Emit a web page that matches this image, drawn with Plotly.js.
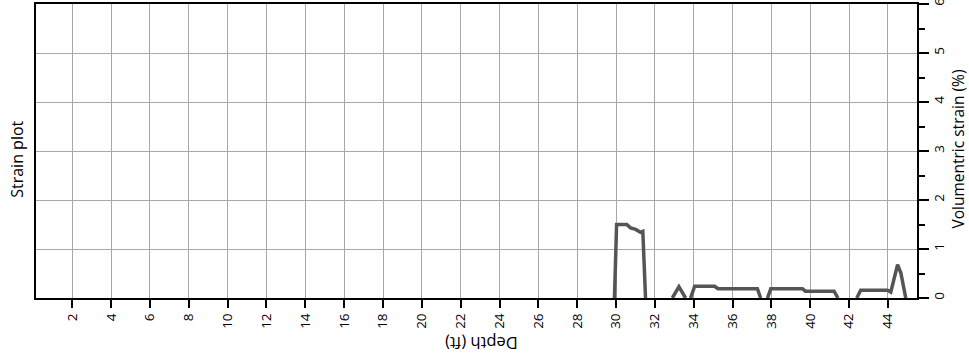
<!DOCTYPE html>
<html>
<head>
<meta charset="utf-8">
<script src="https://cdn.plot.ly/plotly-3.0.1.min.js"></script>
<style>html,body{margin:0;padding:0;background:#fff;}#chart{width:969px;height:363px;}</style>
</head>
<body>
<div id="chart"></div>
<script>
// Depth (ft) and volumetric strain (%); null = gap in the line
var depth = [29.92, 30.03, 30.55, 30.75, 31.01, 31.26, 31.38, 31.52, null,
             32.90, 33.24, 33.58, null,
             33.84, 34.05, 35.08, 35.25, 37.28, 37.45, null,
             37.80, 37.97, 39.60, 39.75, 41.23, 41.43, null,
             42.40, 42.60, 43.98, 44.15, 44.50, 44.67, 44.92];
var strain = [0, 1.50, 1.50, 1.43, 1.40, 1.34, 1.36, 0, null,
              0, 0.23, 0, null,
              0, 0.24, 0.24, 0.19, 0.19, 0, null,
              0, 0.19, 0.19, 0.14, 0.14, 0, null,
              0, 0.16, 0.16, 0.12, 0.68, 0.51, 0];
var depthTicks = [2,4,6,8,10,12,14,16,18,20,22,24,26,28,30,32,34,36,38,40,42,44];
var strainTicks = [0,1,2,3,4,5,6];

var font = '"Open Sans", "Noto Sans", sans-serif';
var trace = {
  x: depth, y: strain, type: 'scatter', mode: 'lines',
  line: {color: '#555555', width: 3.5}, connectgaps: false,
  hoverinfo: 'skip', showlegend: false
};
var layout = {
  width: 969, height: 363,
  margin: {l: 36, r: 52, t: 4, b: 65},
  paper_bgcolor: '#fff', plot_bgcolor: '#fff',
  font: {family: font, color: '#000', size: 13},
  xaxis: {
    range: [0.13, 45.5], tickmode: 'array', tickvals: depthTicks, ticktext: depthTicks.map(String),
    tickangle: -90, ticks: 'outside', ticklen: 8, tickwidth: 2, tickcolor: '#000',
    showline: true, linecolor: '#000', linewidth: 2, mirror: true,
    showgrid: true, gridcolor: '#a8a8a8', gridwidth: 1, zeroline: false,
    tickfont: {size: 13.5, family: font, color: '#000'}
  },
  yaxis: {
    side: 'right', range: [0, 6], tickmode: 'array', tickvals: strainTicks, ticktext: strainTicks.map(String),
    tickangle: -90, ticks: 'outside', ticklen: 10, tickwidth: 2, tickcolor: '#000',
    ticklabeloverflow: 'allow', ticklabelstandoff: -1,
    minor: {ticks: 'outside', ticklen: 6, tickwidth: 2, tickcolor: '#000', dtick: 0.5, tick0: 0, showgrid: false},
    showline: true, linecolor: '#000', linewidth: 2, mirror: true,
    showgrid: true, gridcolor: '#a8a8a8', gridwidth: 1, zeroline: false,
    tickfont: {size: 13.5, family: font, color: '#000'}
  },
  annotations: [
    {text: 'Strain plot', xref: 'paper', yref: 'paper', x: 0, y: 0.47, xshift: -19,
     showarrow: false, textangle: -90, font: {size: 16, family: font, color: '#000'},
     xanchor: 'center', yanchor: 'middle'},
    {text: 'Volumentric strain (%)', xref: 'paper', yref: 'paper', x: 1, y: 0.505, xshift: 41,
     showarrow: false, textangle: -90, font: {size: 15.5, family: font, color: '#000'},
     xanchor: 'center', yanchor: 'middle'},
    {text: 'Depth (ft)', xref: 'paper', yref: 'paper', x: 0.505, y: 0, yshift: -46,
     showarrow: false, textangle: 180, font: {size: 16.5, family: font, color: '#000'},
     xanchor: 'center', yanchor: 'middle'}
  ]
};
Plotly.newPlot('chart', [trace], layout, {staticPlot: true, displayModeBar: false});
</script>
</body>
</html>
